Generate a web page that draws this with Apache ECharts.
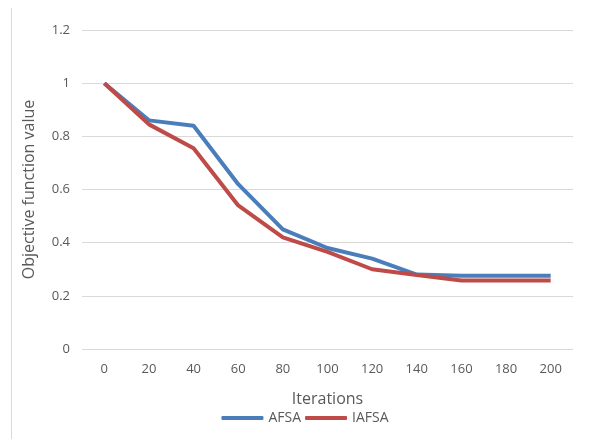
<!DOCTYPE html>
<html><head><meta charset="utf-8">
<script src="https://cdn.jsdelivr.net/npm/echarts@6/dist/echarts.min.js"></script>
<style>html,body{margin:0;padding:0;background:#fff}#c{width:610px;height:439px}</style>
</head><body><div id="c"></div>
<script>
const iterations = ['0','20','40','60','80','100','120','140','160','180','200'];
const afsa  = [1, 0.86, 0.84, 0.62, 0.45, 0.38, 0.34, 0.28, 0.276, 0.276, 0.276];
const iafsa = [1, 0.845, 0.755, 0.54, 0.42, 0.365, 0.30, 0.278, 0.258, 0.258, 0.258];
const yTicks = [0, 0.2, 0.4, 0.6, 0.8, 1, 1.2];
const font = '"Open Sans", "Liberation Sans", sans-serif';
const chart = echarts.init(document.getElementById('c'));
chart.setOption({
  animation: false,
  textStyle: {fontFamily: font},
  graphic: [{type:'line', shape:{x1:11.5,y1:8,x2:11.5,y2:439}, style:{stroke:'#d9d9d9', lineWidth:1}}],
  grid: {left: 82, right: 37, top: 30, bottom: 90},
  legend: {
    bottom: 9, left: 'center', itemGap: 4, itemWidth: 42, itemHeight: 4,
    textStyle: {color:'#595959', fontSize: 14, fontFamily: font, padding:[0,0,0,0]},
    icon: 'roundRect',
    data: ['AFSA','IAFSA']
  },
  xAxis: {
    type: 'category', data: iterations, boundaryGap: true,
    name: 'Iterations', nameLocation: 'middle', nameGap: 42,
    nameTextStyle: {color:'#595959', fontSize: 16, fontFamily: font},
    axisLine: {show: false}, axisTick: {show: false},
    axisLabel: {color:'#595959', fontSize: 13, margin: 14}
  },
  yAxis: {
    type: 'value', min: 0, max: 1.2, interval: 0.2,
    name: 'Objective function value', nameLocation: 'middle', nameGap: 45,
    nameTextStyle: {color:'#595959', fontSize: 16, fontFamily: font},
    axisLine: {show: false}, axisTick: {show: false},
    splitLine: {lineStyle: {color:'#d9d9d9'}},
    axisLabel: {color:'#595959', fontSize: 13, margin: 12,
      formatter: v => { const t = yTicks.find(x => Math.abs(x - v) < 1e-9); return String(+(t ?? v).toFixed(1)); }}
  },
  series: [
    {name:'AFSA', type:'line', data: afsa, symbol:'none', lineStyle:{color:'#4a7ebb', width:4}, itemStyle:{color:'#4a7ebb'}},
    {name:'IAFSA', type:'line', data: iafsa, symbol:'none', lineStyle:{color:'#be4b48', width:4}, itemStyle:{color:'#be4b48'}}
  ]
});
</script></body></html>
